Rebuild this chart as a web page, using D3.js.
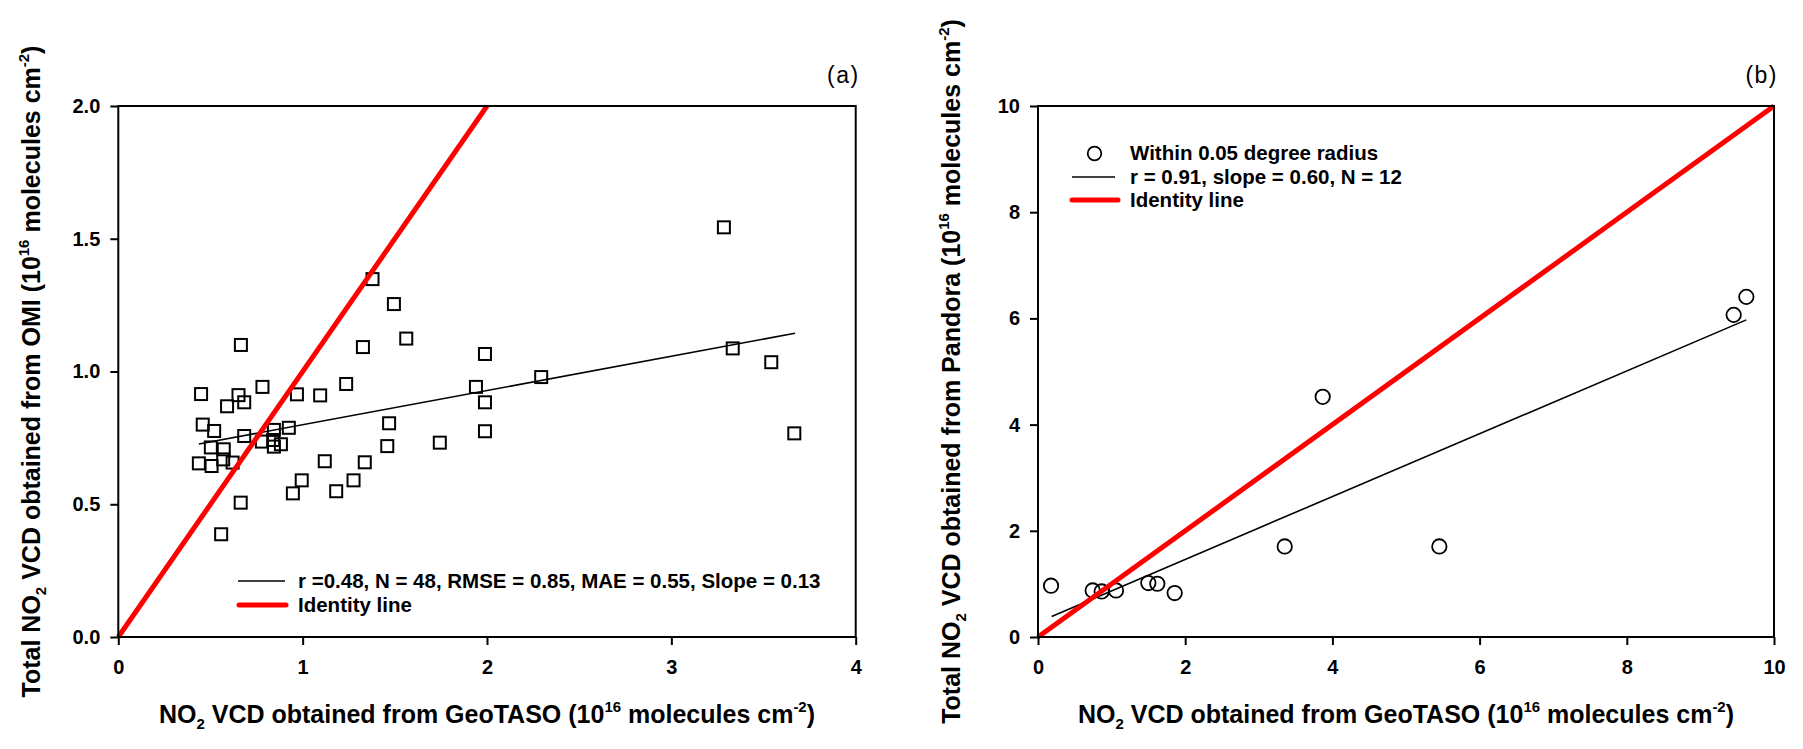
<!DOCTYPE html>
<html>
<head>
<meta charset="utf-8">
<script src="https://cdn.jsdelivr.net/npm/d3@7"></script>
<style>
  html, body { margin: 0; padding: 0; background: #fff; }
  svg { display: block; font-family: "Liberation Sans", Arial, sans-serif; }
  .tick text { font-weight: bold; font-size: 20px; fill: #000; }
</style>
</head>
<body>
<svg id="chart" width="1803" height="749"></svg>
<script>
// ---------- Panel (a): GeoTASO vs OMI ----------
const aX = [1.379,1.495,1.562,1.327,0.665,1.989,0.449,0.652,0.782,0.969,1.095,1.236,1.940,1.989,0.590,0.683,
            0.458,0.520,0.683,0.779,0.844,0.925,0.840,0.882,0.844,1.469,1.459,1.744,1.989,0.502,0.572,0.437,
            0.506,0.620,0.569,1.120,1.337,0.995,1.276,0.558,0.664,0.947,1.182,3.285,2.294,3.333,3.542,3.667];
const aY = [1.348,1.254,1.124,1.092,1.100,1.066,0.915,0.911,0.942,0.914,0.910,0.953,0.942,0.884,0.869,0.884,
            0.800,0.776,0.757,0.736,0.780,0.788,0.742,0.726,0.717,0.805,0.719,0.732,0.775,0.714,0.707,0.654,
            0.644,0.657,0.669,0.662,0.658,0.590,0.590,0.387,0.506,0.541,0.549,1.543,0.979,1.087,1.035,0.767];
const aFitX = [0.437, 3.671];
const aFitY = [0.727, 1.144];
const aIdentity = [0, 2];
const aXTicks = [0, 1, 2, 3, 4];
const aYTicks = [0, 0.5, 1.0, 1.5, 2.0];
const aLegend = ["r =0.48, N = 48, RMSE = 0.85, MAE = 0.55, Slope = 0.13", "Identity line"];

// ---------- Panel (b): GeoTASO vs Pandora ----------
const bX = [0.177,0.743,0.865,1.060,1.499,1.621,1.857,3.352,3.868,5.453,9.452,9.624];
const bY = [0.966,0.877,0.858,0.877,1.016,1.003,0.828,1.705,4.523,1.705,6.066,6.405];
const bFitX = [0.186, 9.624];
const bFitY = [0.388, 5.972];
const bIdentity = [0, 10];
const bXTicks = [0, 2, 4, 6, 8, 10];
const bYTicks = [0, 2, 4, 6, 8, 10];
const bLegend = ["Within 0.05 degree radius", "r = 0.91, slope = 0.60, N = 12", "Identity line"];

const svg = d3.select("#chart");
const RED = "#ff0000";

function panel(cfg) {
  const x = d3.scaleLinear().domain(cfg.xDomain).range([cfg.left, cfg.right]);
  const y = d3.scaleLinear().domain(cfg.yDomain).range([cfg.bottom, cfg.top]);
  const g = svg.append("g");

  // markers
  const pts = cfg.xs.map((v, i) => [v, cfg.ys[i]]);
  if (cfg.marker === "square") {
    const s = 12;
    g.selectAll("rect.pt").data(pts).join("rect")
      .attr("x", d => x(d[0]) - s / 2).attr("y", d => y(d[1]) - s / 2)
      .attr("width", s).attr("height", s)
      .attr("fill", "none").attr("stroke", "#000").attr("stroke-width", 2);
  } else {
    g.selectAll("circle.pt").data(pts).join("circle")
      .attr("cx", d => x(d[0])).attr("cy", d => y(d[1])).attr("r", 7.2)
      .attr("fill", "none").attr("stroke", "#000").attr("stroke-width", 1.8);
  }

  const line = d3.line().x(d => x(d[0])).y(d => y(d[1]));
  // regression
  g.append("path").datum(cfg.fitX.map((v, i) => [v, cfg.fitY[i]]))
    .attr("d", line).attr("fill", "none").attr("stroke", "#000").attr("stroke-width", 1.6);
  // identity
  g.append("path").datum(cfg.identity.map(v => [v, v]))
    .attr("d", line).attr("fill", "none").attr("stroke", RED).attr("stroke-width", 5);

  // axes
  const xa = g.append("g").attr("transform", `translate(0,${cfg.bottom})`)
    .call(d3.axisBottom(x).tickValues(cfg.xTicks).tickFormat(cfg.xFmt).tickSize(8).tickSizeOuter(0).tickPadding(15));
  const ya = g.append("g").attr("transform", `translate(${cfg.left},0)`)
    .call(d3.axisLeft(y).tickValues(cfg.yTicks).tickFormat(cfg.yFmt).tickSize(8).tickSizeOuter(0).tickPadding(10));
  [xa, ya].forEach(a => {
    a.select(".domain").remove();
    a.selectAll(".tick line").attr("stroke", "#000").attr("stroke-width", 2);
    a.selectAll(".tick text").attr("font-family", "'Liberation Sans', Arial, sans-serif");
  });
  // frame
  g.append("rect").attr("x", cfg.left).attr("y", cfg.top)
    .attr("width", cfg.right - cfg.left).attr("height", cfg.bottom - cfg.top)
    .attr("fill", "none").attr("stroke", "#000").attr("stroke-width", 2);

  // x title
  const cx = (cfg.left + cfg.right) / 2;
  const xt = g.append("text").attr("x", cx).attr("y", 723).attr("text-anchor", "middle")
    .attr("font-size", 25).attr("font-weight", "bold");
  titleSpans(xt, "", "VCD obtained from GeoTASO (10");

  // y title
  const cy = (cfg.top + cfg.bottom) / 2;
  const yt = g.append("text").attr("transform", `translate(${cfg.left - 78},${cy}) rotate(-90)`)
    .attr("text-anchor", "middle").attr("font-size", 25).attr("font-weight", "bold");
  titleSpans(yt, "Total ", "VCD obtained from " + cfg.source + " (10");

  // panel label
  g.append("text").attr("x", cfg.right + 4).attr("y", 83).attr("text-anchor", "end")
    .attr("font-size", 23).attr("letter-spacing", 1.5).text(cfg.label);

  return { x, y, g };
}

function titleSpans(t, pre, mid) {
  t.append("tspan").text(pre + "NO");
  t.append("tspan").attr("font-size", 15).attr("dy", 6).text("2");
  t.append("tspan").attr("dy", -6).text(" " + mid);
  t.append("tspan").attr("font-size", 15).attr("dy", -11).text("16");
  t.append("tspan").attr("dy", 11).text(" molecules cm");
  t.append("tspan").attr("font-size", 15).attr("dy", -11).text("-2");
  t.append("tspan").attr("dy", 11).text(")");
}

// Panel a
const pa = panel({
  xs: aX, ys: aY, fitX: aFitX, fitY: aFitY, identity: aIdentity,
  xDomain: [0, 4], yDomain: [0, 2], xTicks: aXTicks, yTicks: aYTicks,
  xFmt: d3.format("d"), yFmt: d3.format(".1f"),
  left: 118.3, right: 855.7, top: 106, bottom: 637,
  marker: "square", source: "OMI", label: "(a)"
});
// legend a
const la = pa.g.append("g");
la.append("line").attr("x1", 238).attr("x2", 285).attr("y1", 581).attr("y2", 581)
  .attr("stroke", "#000").attr("stroke-width", 1.6);
la.append("line").attr("x1", 239).attr("x2", 286).attr("y1", 605).attr("y2", 605)
  .attr("stroke", RED).attr("stroke-width", 5).attr("stroke-linecap", "round");
la.selectAll("text").data(aLegend).join("text")
  .attr("x", 298).attr("y", (d, i) => 581 + i * 24).attr("dy", "0.35em")
  .attr("font-size", 20.5).attr("font-weight", "bold").text(d => d);

// Panel b
const pb = panel({
  xs: bX, ys: bY, fitX: bFitX, fitY: bFitY, identity: bIdentity,
  xDomain: [0, 10], yDomain: [0, 10], xTicks: bXTicks, yTicks: bYTicks,
  xFmt: d3.format("d"), yFmt: d3.format("d"),
  left: 1038, right: 1774, top: 106, bottom: 637,
  marker: "circle", source: "Pandora", label: "(b)"
});
const lb = pb.g.append("g");
lb.append("circle").attr("cx", 1094.5).attr("cy", 153.5).attr("r", 6.8)
  .attr("fill", "none").attr("stroke", "#000").attr("stroke-width", 1.8);
lb.append("line").attr("x1", 1072).attr("x2", 1115).attr("y1", 177).attr("y2", 177)
  .attr("stroke", "#000").attr("stroke-width", 1.6);
lb.append("line").attr("x1", 1072).attr("x2", 1118).attr("y1", 200).attr("y2", 200)
  .attr("stroke", RED).attr("stroke-width", 5).attr("stroke-linecap", "round");
lb.selectAll("text").data(bLegend).join("text")
  .attr("x", 1130).attr("y", (d, i) => 153 + i * 23.5).attr("dy", "0.35em")
  .attr("font-size", 20.5).attr("font-weight", "bold").text(d => d);
</script>
</body>
</html>
